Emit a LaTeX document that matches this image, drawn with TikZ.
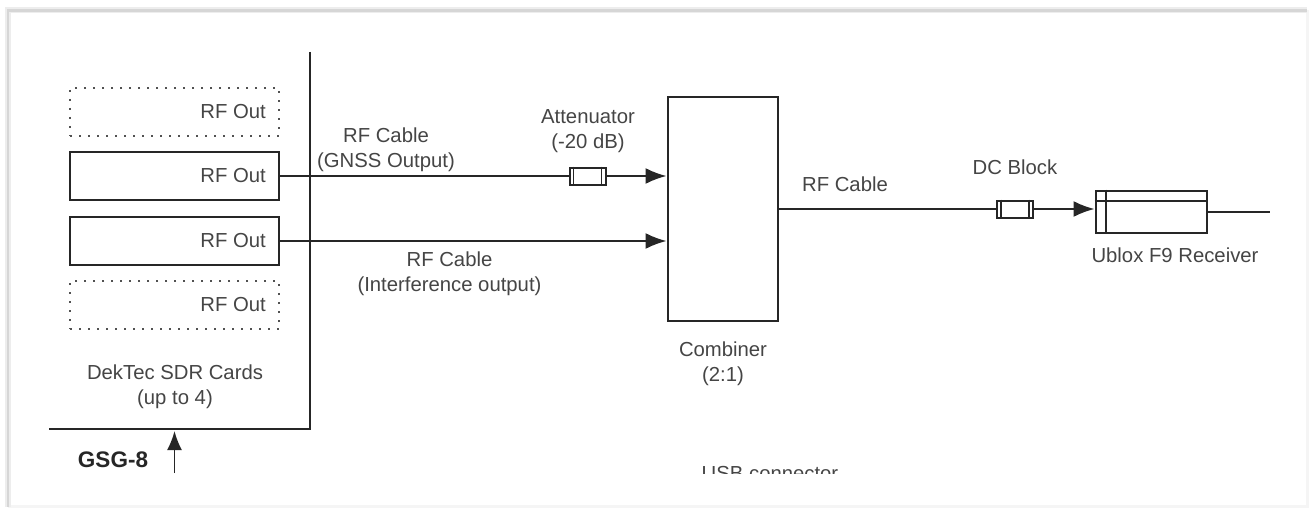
\documentclass[tikz,border=0pt]{standalone}
\usepackage{fontspec}
\setmainfont{Liberation Sans}
\usetikzlibrary{arrows.meta,calc}
\definecolor{ink}{HTML}{262626}
\definecolor{txt}{HTML}{454545}
\tikzset{
  lbl/.style={text=txt,font=\fontsize{20.3}{25}\selectfont,align=center,inner sep=0pt},
  rfbox/.style={draw=ink,line width=2pt,minimum width=209pt,minimum height=48pt,inner sep=0pt},
  rfdot/.style={draw=ink!80,line width=2pt,dash pattern=on 2pt off 7pt,minimum width=209pt,minimum height=48pt,inner sep=0pt},
  wire/.style={draw=ink,line width=2pt},
  arr/.style={wire,-{Latex[length=21pt,width=16pt]}},
  fuse/.style={draw=ink,fill=white,line width=2pt,minimum width=36pt,minimum height=17pt,inner sep=0pt},
  frameA/.style={draw=black!7,line width=6pt},
  frameB/.style={draw=black!16,line width=2.5pt},
  frameC/.style={draw=black!4,line width=3pt},
}
\begin{document}
\begin{tikzpicture}[x=1pt,y=-1pt]
\useasboundingbox (0,0) rectangle (1309,508);
\fill[white] (0,0) rectangle (1309,508);
% screenshot frame
\coordinate (fa) at (8,506.5);
\coordinate (fb) at (8,10.5);
\coordinate (fc) at (1307,10.5);
\coordinate (fd) at (1307,506.5);
\draw[frameC] (fc) -- (fd) -- (fa);
\draw[frameA] (fa) -- (fb) -- (fc);
\draw[frameB] (fa) -- (fb) -- (fc);
% GSG-8 outline
\coordinate (ga) at (310,52);
\coordinate (gb) at (310,429);
\coordinate (gc) at (49,429);
\draw[draw=ink,line width=2.4pt] (ga) -- (gb) -- (gc);
% cards
\node[rfdot] (c1) at (174.5,112) {};
\node[rfbox] (c2) at (174.5,176) {};
\node[rfbox] (c3) at (174.5,241) {};
\node[rfdot] (c4) at (174.5,305) {};
\node[lbl,anchor=east] (t1) at (266,112) {RF Out};
\node[lbl,anchor=east] (t2) at (266,176) {RF Out};
\node[lbl,anchor=east] (t3) at (266,241) {RF Out};
\node[lbl,anchor=east] (t4) at (266,305) {RF Out};
\node[lbl] (dek) at (175,387) {DekTec SDR Cards\\(up to 4)};
\node[inner sep=0pt,text=ink,font=\fontsize{22.5}{24}\selectfont\bfseries] (gsg) at (113,460) {GSG-8};
\coordinate (up) at (174.5,473);
\coordinate (upt) at (174.5,431);
\draw[wire,line width=1.8pt,-{Latex[length=19pt,width=15pt]}] (up) -- (upt);
% combiner
\node[draw=ink,line width=2pt,minimum width=110pt,minimum height=224pt,inner sep=0pt] (comb) at (722.5,209) {};
\node[lbl] (combt) at (723,363.5) {Combiner\\(2:1)};
% attenuator
\node[fuse] (att) at (587.5,176) {};
\draw[draw=ink,line width=1.6pt] ($(att.north west)+(5,0)$) -- ($(att.south west)+(5,0)$);
\draw[draw=ink,line width=1.6pt] ($(att.north east)+(-5,0)$) -- ($(att.south east)+(-5,0)$);
\node[lbl] (attt) at (588,131.5) {Attenuator\\(-20 dB)};
\draw[wire] (c2.east) -- (att.west);
\draw[arr] (att.east) -- (att.east -| comb.west);
\draw[arr] (c3.east) -- (c3.east -| comb.west);
\node[lbl] (l1) at (386,150) {RF Cable\\(GNSS Output)};
\node[lbl] (l2) at (449.5,274) {RF Cable\\(Interference output)};
% dc block
\node[fuse,minimum width=36pt] (dc) at (1015,209) {};
\draw[draw=ink,line width=1.6pt] ($(dc.north west)+(5,0)$) -- ($(dc.south west)+(5,0)$);
\draw[draw=ink,line width=1.6pt] ($(dc.north east)+(-5,0)$) -- ($(dc.south east)+(-5,0)$);
\node[lbl] (dct) at (1015,167) {DC Block};
\node[lbl] (l3) at (845,184) {RF Cable};
\draw[wire] (dc.west -| comb.east) -- (dc.west);
% receiver
\node[draw=ink,line width=2pt,minimum width=111pt,minimum height=42pt,inner sep=0pt] (rx) at (1151,211.5) {};
\draw[draw=ink,line width=2pt] ($(rx.north west)+(0,11)$) -- ($(rx.north east)+(0,11)$);
\draw[draw=ink,line width=2pt] ($(rx.north west)+(11,0)$) -- ($(rx.south west)+(11,0)$);
\draw[arr] (dc.east) -- (dc.east -| rx.west);
\coordinate (rxo) at (1270,211.5);
\draw[wire] (rx.east) -- (rxo);
\node[lbl] (rxt) at (1175,255) {Ublox F9 Receiver};
% clipped label
\begin{scope}
\clip (690,440) rectangle (860,473);
\node[lbl,anchor=base] (usb) at (770,480) {USB connector};
\end{scope}
\end{tikzpicture}
\end{document}
